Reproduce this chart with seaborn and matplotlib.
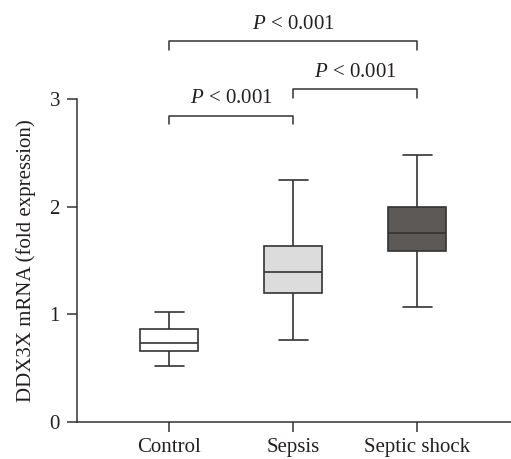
import matplotlib
matplotlib.use('Agg')
from matplotlib import pyplot as plt
import seaborn as sns
import pandas as pd

grupos = ['Control', 'Sepsis', 'Septic shock']
minimos = [0.52, 0.76, 1.065]
q1 = [0.655, 1.195, 1.587]
medianas = [0.73, 1.397, 1.754]
q3 = [0.863, 1.636, 1.996]
maximos = [1.024, 2.25, 2.48]
cores = ['#ffffff', '#dcdcdc', '#5d5957']
comparacoes = [(0, 2, 3.54), (1, 2, 3.095), (0, 1, 2.85)]
rotulo_p = '$P$ < 0.001'

linhas = []
for i, g in enumerate(grupos):
    for v in (minimos[i], q1[i], medianas[i], q3[i], maximos[i]):
        linhas.append({'grupo': g, 'valor': v})
dados = pd.DataFrame(linhas)

sns.set_style('ticks')
plt.rcParams['font.family'] = ['Liberation Serif', 'DejaVu Serif']
plt.rcParams['mathtext.fontset'] = 'custom'
plt.rcParams['mathtext.rm'] = 'Liberation Serif'
plt.rcParams['mathtext.it'] = 'Liberation Serif:italic'

fig = plt.figure(figsize=(5.11, 4.59), dpi=100)
ax = fig.add_axes([0.150, 0.0813, 0.85, 0.9187])

cor_linha = '#333333'
cor_texto = '#231f20'
sns.boxplot(data=dados, x='grupo', y='valor', hue='grupo', palette=cores,
            legend=False, width=0.47, whis=(0, 100), saturation=1,
            linecolor=cor_linha, linewidth=1.2, ax=ax)

ymax = 3.926
ax.set_xlim(-0.745, 2.755)
ax.set_ylim(0, ymax)
ax.spines['left'].set_bounds(0, 3)
ax.spines['top'].set_visible(False)
ax.spines['right'].set_visible(False)
for s in ('left', 'bottom'):
    ax.spines[s].set_color(cor_linha)
    ax.spines[s].set_linewidth(1.1)
ax.set_yticks([0, 1, 2, 3])
ax.tick_params(axis='both', length=7, width=1.1, color=cor_linha,
               labelsize=15, labelcolor=cor_texto, pad=5)
ax.set_xlabel('')
ax.set_ylabel('DDX3X mRNA (fold expression)', fontsize=15, color=cor_texto)
ax.yaxis.set_label_coords(-0.093, 1.5 / ymax)

for a, b, y in comparacoes:
    ax.plot([a, a, b, b], [y - 0.08, y, y, y - 0.08], color=cor_linha,
            linewidth=1.1, clip_on=False)
    ax.text((a + b) / 2, y + 0.07, rotulo_p, ha='center', va='bottom',
            fontsize=15, color=cor_texto)

fig.savefig('out.png', dpi=100)
